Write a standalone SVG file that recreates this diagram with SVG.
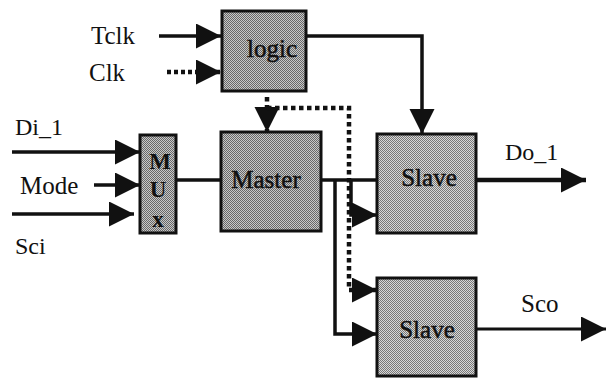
<svg xmlns="http://www.w3.org/2000/svg" width="606" height="378" viewBox="0 0 606 378">
<style>
.box{fill:url(#dither);stroke:#111;stroke-width:3}
.lighter{fill:url(#ditherLight);stroke:#111;stroke-width:3}
.w{fill:none;stroke:#111;stroke-width:3.500}
.thick{stroke-width:4.500}
.thin{stroke-width:3}
.dot{fill:none;stroke:#111;stroke-width:4.500;stroke-dasharray:4.500 3.500}
text{font-family:"Liberation Serif","Times New Roman",serif;fill:#111;font-size:25px}
.n{stroke:#111;stroke-width:.5}
.b{font-weight:bold;font-size:23px}
.m{text-anchor:middle}
.s{font-size:24px}
</style>
<defs>
<pattern id="dither" width="2" height="2" patternUnits="userSpaceOnUse"><rect width="2" height="2" fill="#c8c8c8"/><rect width="1" height="1" fill="#686868"/><rect x="1" y="1" width="1" height="1" fill="#686868"/></pattern>
<pattern id="ditherLight" width="2" height="2" patternUnits="userSpaceOnUse"><rect width="2" height="2" fill="#d8d8d8"/><rect width="1" height="1" fill="#787878"/><rect x="1" y="1" width="1" height="1" fill="#787878"/></pattern>
<marker id="arr" markerUnits="userSpaceOnUse" markerWidth="26" markerHeight="26" refX="25" refY="12.500" orient="auto"><path d="M0 0L25 12.500L0 25Z" fill="#111"/></marker>
</defs>
<g id="connectors">
<path class="w" d="M159 36H221" marker-end="url(#arr)"/>
<path class="dot" d="M167 72H221" marker-end="url(#arr)" style="stroke-dasharray:4 3"/>
<path class="w" d="M306 36H422V134" marker-end="url(#arr)"/>
<path class="dot" d="M267 97V132" marker-end="url(#arr)"/>
<path class="dot" d="M267 108H349V290H377" marker-end="url(#arr)"/>
<path class="w" d="M12 152H140" marker-end="url(#arr)"/>
<path class="w" d="M94 185H140" marker-end="url(#arr)"/>
<path class="w" d="M12 214H134" marker-end="url(#arr)"/>
<path class="w" d="M176 180H221"/>
<path class="w" d="M321 180H377"/>
<path class="w" d="M351 180V215H377" marker-end="url(#arr)"/>
<path class="w" d="M335 180V334H377" marker-end="url(#arr)"/>
<path class="w thick" d="M476 180H586" marker-end="url(#arr)"/>
<path class="w thin" d="M476 329H606" marker-end="url(#arr)"/>
</g>
<g id="logic"><rect class="box" x="222" y="11" width="84" height="80"/><text class="n m" x="272" y="57">logic</text></g>
<g id="mux"><rect class="box" x="140" y="135" width="36" height="98"/><text class="b m" x="160" y="169">M</text><text class="b m" x="158" y="197">U</text><text class="b m" x="158" y="227">x</text></g>
<g id="master"><rect class="box" x="221" y="132" width="100" height="99"/><text class="n m" x="266" y="188">Master</text></g>
<g id="slave1"><rect class="lighter" x="377" y="134" width="99" height="99"/><text class="n m" x="429" y="186">Slave</text></g>
<g id="slave2"><rect class="lighter" x="377" y="278" width="99" height="98"/><text class="n m" x="427" y="338">Slave</text></g>
<g id="labels">
<text x="91" y="44">Tclk</text>
<text x="89" y="81">Clk</text>
<text class="s" x="15" y="135">Di_1</text>
<text x="20" y="194">Mode</text>
<text class="s" x="15" y="254">Sci</text>
<text class="s" x="505" y="160">Do_1</text>
<text x="521" y="312">Sco</text>
</g>
</svg>
